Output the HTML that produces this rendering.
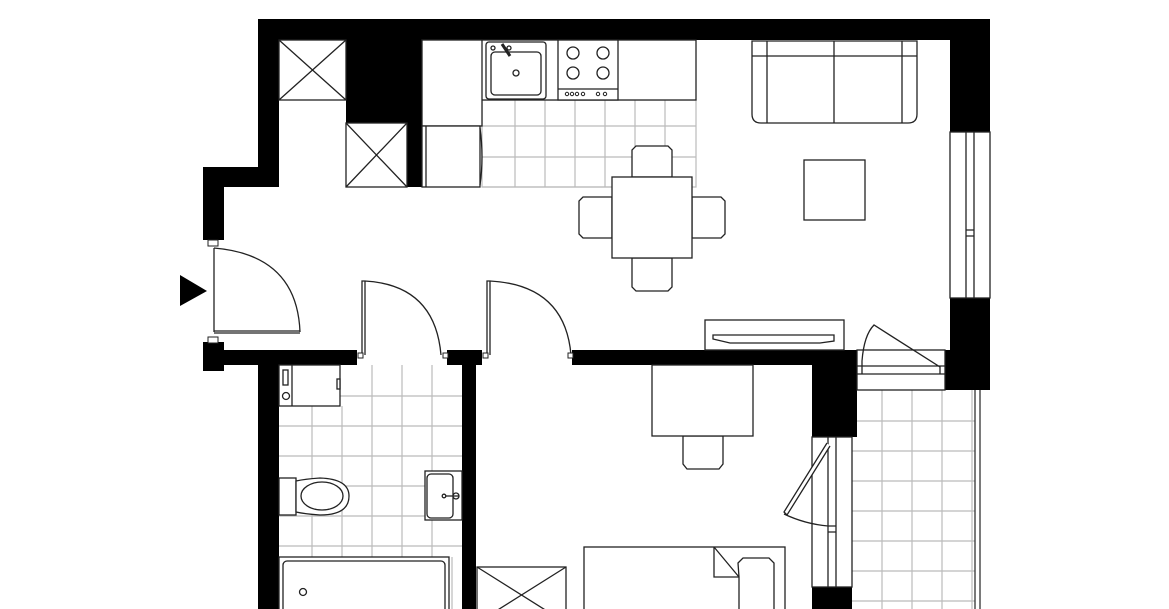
<!DOCTYPE html>
<html><head><meta charset="utf-8"><style>html,body{margin:0;padding:0;background:#fff}svg{display:block}</style></head>
<body>
<svg width="1169" height="609" viewBox="0 0 1169 609" xmlns="http://www.w3.org/2000/svg">
<rect width="1169" height="609" fill="#fff"/>
<!-- tiles -->
<g stroke="#bbb" stroke-width="1.2" fill="none">
<!-- kitchen -->
<path d="M515 100V187M545 100V187M575 100V187M605 100V187M635 100V187M665 100V187M482 126H696M482 157H696M482 187H612"/>
<rect x="482" y="100" width="214" height="87"/>
<!-- bathroom -->
<path d="M312 406V557M342 406V557M372 365V557M402 365V557M432 365V557M340 396H462M279 426H462M279 456H462M279 486H462M279 516H462M279 546H462M452 557V609"/>
<!-- balcony -->
<path d="M882 390V609M912 390V609M942 390V609M972 390V609M852 421H975M852 451H975M852 481H975M852 511H975M852 541H975M852 571H975M852 601H975"/>
</g>
<g stroke="#333" stroke-width="1.3" fill="none"><path d="M975 390V609M980 390V609"/></g>
<!-- walls -->
<g fill="#000">
<rect x="258" y="19" width="732" height="21"/>
<rect x="258" y="19" width="21" height="168"/>
<rect x="203" y="167" width="76" height="20"/>
<rect x="203" y="167" width="21" height="73"/>
<rect x="346" y="40" width="76" height="83"/>
<rect x="407" y="40" width="15" height="147"/>
<rect x="950" y="19" width="40" height="113"/>
<rect x="950" y="298" width="40" height="92"/>
<rect x="945" y="350" width="45" height="40"/>
<rect x="203" y="342" width="21" height="29"/>
<rect x="203" y="350" width="154" height="15"/>
<rect x="258" y="350" width="21" height="259"/>
<rect x="447" y="350" width="35" height="15"/>
<rect x="462" y="350" width="14" height="259"/>
<rect x="572" y="350" width="285" height="15"/>
<rect x="812" y="350" width="45" height="87"/>
<rect x="812" y="587" width="40" height="22"/>
</g>
<g stroke="#222" stroke-width="1.3" fill="#fff">
<!-- cabinets with X -->
<rect x="279" y="40" width="67" height="60"/><path d="M279 40L346 100M346 40L279 100" fill="none"/>
<rect x="346" y="123" width="61" height="64"/><path d="M346 123L407 187M407 123L346 187" fill="none"/>
<rect x="477" y="567" width="89" height="50"/><path d="M477 567L566 623M566 567L477 623" fill="none"/>
<!-- counters -->
<rect x="422" y="40" width="274" height="60"/>
<rect x="422" y="40" width="60" height="86"/>
<rect x="422" y="126" width="58" height="61"/><path d="M426 126V187M480 128Q484 157 480 185" fill="none"/>
<rect x="486" y="42" width="60" height="57" rx="3"/><rect x="491" y="52" width="50" height="43" rx="4"/>
<circle cx="516" cy="73" r="3"/><circle cx="493" cy="48" r="2"/><circle cx="509" cy="48" r="2"/><path d="M502 44L510 56" stroke-width="3"/>
<rect x="558" y="40" width="60" height="60"/><path d="M558 89H618" fill="none"/>
<circle cx="573" cy="53" r="6"/><circle cx="603" cy="53" r="6"/><circle cx="573" cy="73" r="6"/><circle cx="603" cy="73" r="6"/>
<g stroke-width="1"><circle cx="567" cy="94" r="1.7"/><circle cx="572" cy="94" r="1.7"/><circle cx="577" cy="94" r="1.7"/><circle cx="583" cy="94" r="1.7"/><circle cx="598" cy="94" r="1.7"/><circle cx="605" cy="94" r="1.7"/></g>
<!-- dining -->
<path d="M632 177V150l4-4h32l4 4V177Z"/><path d="M632 258V287l4 4h32l4-4V258Z"/>
<path d="M612 197H583l-4 4v33l4 4H612Z"/><path d="M692 197H721l4 4v33l-4 4H692Z"/>
<rect x="612" y="177" width="80" height="81"/>
<!-- sofa -->
<path d="M752 41H917V114q0 9-9 9H761q-9 0-9-9Z"/>
<path d="M752 56H917M767 41V123M902 41V123M834 41V123" fill="none"/>
<rect x="804" y="160" width="61" height="60"/>
<!-- tv -->
<rect x="705" y="320" width="139" height="30"/><path d="M713 335H834V341L820 343H730L713 339Z"/>
<!-- window living -->
<rect x="950" y="132" width="40" height="166"/><path d="M966 132V298M974 132V298M966 230H974M966 236H974" fill="none"/>
<!-- balcony door -->
<rect x="857" y="350" width="88" height="40"/><path d="M857 366H945M857 374H945M862 374V361Q864 335 874 325L940 367V374" fill="none"/>
<!-- bedroom window -->
<rect x="812" y="437" width="40" height="150"/><path d="M828 437V587M836 437V587M828 526H836M828 532H836" fill="none"/>
<path d="M827 443L784 512L787 515L830 446" /><path d="M784 514Q805 524 828 526" fill="none"/>
<!-- desk -->
<path d="M683 436V464l4 5h32l4-5V436Z"/><rect x="652" y="365" width="101" height="71"/>
<!-- bed -->
<rect x="584" y="547" width="201" height="70"/>
<path d="M714 547V577H739" fill="none"/><path d="M738 563l5-5h26l5 5V617H739V577Z"/><path d="M714 547L739 577" fill="none"/>
<!-- bathroom fixtures -->
<rect x="279" y="365" width="61" height="41"/><path d="M292 365V406" fill="none"/><rect x="283" y="370" width="5" height="15"/><circle cx="286" cy="396" r="3.5"/><rect x="337" y="379" width="3" height="10"/>
<rect x="279" y="478" width="17" height="37"/><path d="M296 481Q305 479 320 478Q349 479 349 496Q349 515 320 515Q305 514 296 512Z"/><ellipse cx="322" cy="496" rx="21" ry="14"/>
<rect x="425" y="471" width="37" height="49"/><rect x="427" y="474" width="26" height="44" rx="4"/><circle cx="444" cy="496" r="1.8"/><circle cx="456" cy="496" r="3"/><path d="M446 496H459" fill="none"/>
<rect x="279" y="557" width="170" height="60"/><rect x="283" y="561" width="162" height="56" rx="4"/><circle cx="303" cy="592" r="3.5"/>
<!-- doors -->
<rect x="208" y="240" width="10" height="6" stroke-width="1"/><rect x="208" y="337" width="10" height="6" stroke-width="1"/>
<path d="M214 248V332M214 248Q297 255 300 332M214 331H300M214 333H300" fill="none"/>
<path d="M362 355V281H365V355M365 281Q435 285 441 355" fill="none"/>
<rect x="358" y="353" width="5" height="5" stroke-width="1"/><rect x="443" y="353" width="5" height="5" stroke-width="1"/>
<path d="M487 355V281H490V355M490 281Q565 285 571 355" fill="none"/>
<rect x="483" y="353" width="5" height="5" stroke-width="1"/><rect x="568" y="353" width="5" height="5" stroke-width="1"/>
</g>
<polygon points="180,275 207,291 180,306" fill="#000"/>
</svg>
</body></html>
